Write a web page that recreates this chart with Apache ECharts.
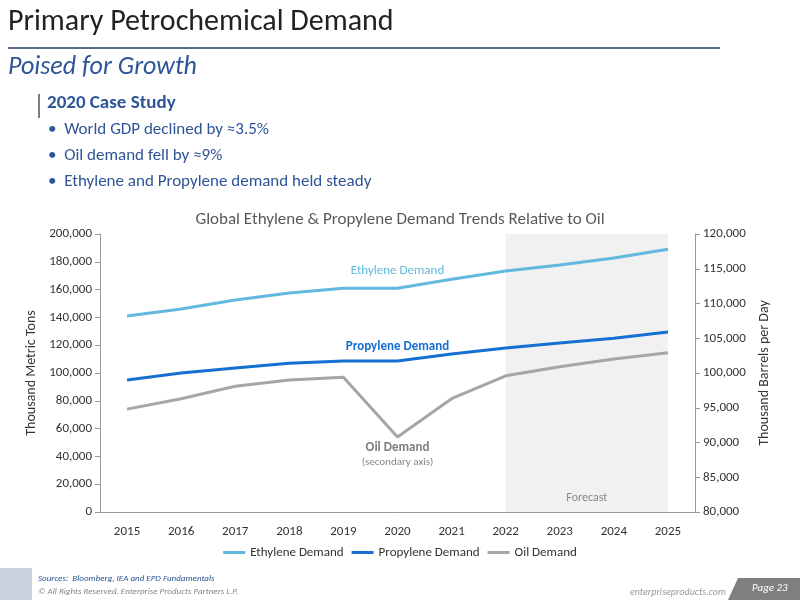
<!DOCTYPE html>
<html><head><meta charset="utf-8">
<script src="https://cdn.jsdelivr.net/npm/echarts@6/dist/echarts.min.js"></script>
<style>html,body{margin:0;padding:0;background:#fff}#c{width:800px;height:600px}</style>
</head><body><div id="c"></div>
<script>
const years = ['2015','2016','2017','2018','2019','2020','2021','2022','2023','2024','2025'];
const ethylene = [141000,146000,152500,157500,161000,161000,167500,173400,177700,182700,189000];
const propylene = [95000,100000,103600,107000,108600,108600,113700,118000,121600,125000,129500];
const oil = [94800,96300,98100,99000,99400,90800,96300,99600,100900,102000,102900];
const bullets = ['World GDP declined by \u22483.5%','Oil demand fell by \u22489%','Ethylene and Propylene demand held steady'];

const chart = echarts.init(document.getElementById('c'));
const F = 'Calibri, Carlito, "Open Sans", sans-serif';
const g = [
 {type:'text',left:8,top:7,style:{text:'Primary Petrochemical Demand',font:'30px '+F,fill:'#222'}},
 {type:'line',shape:{x1:8,y1:48,x2:720,y2:48},style:{stroke:'#1f3864',lineWidth:1.5}},
 {type:'text',left:8,top:54,style:{text:'Poised for Growth',font:'italic 26px '+F,fill:'#2e5597'}},
 {type:'rect',shape:{x:38,y:94,width:2,height:24},style:{fill:'#7f7f7f'}},
 {type:'text',left:47,top:94,style:{text:'2020 Case Study',font:'bold 19px '+F,fill:'#2e5597'}},
 {type:'rect',shape:{x:0,y:568,width:32,height:32},style:{fill:'#c9d3df'}},
 {type:'text',left:38,top:574,style:{text:'Sources:  Bloomberg, IEA and EPD Fundamentals',font:'italic 9px '+F,fill:'#2e5597'}},
 {type:'text',left:38,top:587,style:{text:'\u00a9 All Rights Reserved. Enterprise Products Partners L.P.',font:'italic 9px '+F,fill:'#888'}},
 {type:'text',left:630,top:587,style:{text:'enterpriseproducts.com',font:'italic 10px '+F,fill:'#999'}},
 {type:'polygon',shape:{points:[[738,578],[800,578],[800,600],[728,600]]},style:{fill:'#7f7f7f'}},
 {type:'text',left:752,top:583,style:{text:'Page 23',font:'italic 11px '+F,fill:'#fff'}}
];
bullets.forEach((b,i)=>g.push({type:'text',left:48,top:121+i*26,style:{text:'\u2022  '+b,font:'17px '+F,fill:'#2e5597'}}));
const mp = (txt, coord, style) => ({symbol:'circle',symbolSize:0,label:Object.assign({show:true,position:'inside',fontFamily:F,formatter:txt},style),data:[{coord:coord}]});
chart.setOption({
 animation:false,
 textStyle:{fontFamily:F},
 title:{text:'Global Ethylene & Propylene Demand Trends Relative to Oil',left:'center',top:206,textStyle:{fontSize:17,fontWeight:'normal',color:'#595959',fontFamily:F}},
 graphic:g,
 grid:{left:100,right:105,top:234,bottom:88},
 legend:{bottom:36,itemWidth:22,itemHeight:3,icon:'rect',textStyle:{fontSize:13,color:'#333'},
   data:['Ethylene Demand','Propylene Demand','Oil Demand']},
 xAxis:{type:'category',data:years,axisTick:{show:false},axisLine:{lineStyle:{color:'#999'}},axisLabel:{color:'#333',fontSize:13,margin:13}},
 yAxis:[
  {type:'value',min:0,max:200000,interval:20000,name:'Thousand Metric Tons',nameLocation:'middle',nameGap:62,nameTextStyle:{fontSize:14,color:'#333'},
   axisLine:{show:true,lineStyle:{color:'#999'}},axisTick:{show:true},splitLine:{show:false},
   axisLabel:{color:'#333',fontSize:13,formatter:v=>v.toLocaleString('en-US')}},
  {type:'value',min:80000,max:120000,interval:5000,name:'Thousand Barrels per Day',nameLocation:'middle',nameGap:62,nameRotate:90,nameTextStyle:{fontSize:14,color:'#333'},
   axisLine:{show:true,lineStyle:{color:'#999'}},axisTick:{show:true},splitLine:{show:false},
   axisLabel:{color:'#333',fontSize:13,formatter:v=>v.toLocaleString('en-US')}}
 ],
 series:[
  {name:'Ethylene Demand',type:'line',data:ethylene,symbol:'none',lineStyle:{width:3,color:'#62b8de'},itemStyle:{color:'#62b8de'},
   markArea:{silent:true,itemStyle:{color:'rgba(200,200,200,0.25)'},label:{show:true,position:'insideBottom',distance:8,color:'#888',fontSize:12,fontFamily:F},
     data:[[{name:'Forecast',xAxis:'2022'},{xAxis:'2025'}]]},
   markPoint:mp('Ethylene Demand',[5,173500],{color:'#62b8de',fontSize:13})},
  {name:'Propylene Demand',type:'line',data:propylene,symbol:'none',lineStyle:{width:3,color:'#1670d2'},itemStyle:{color:'#1670d2'},
   markPoint:mp('Propylene Demand',[5,119000],{color:'#1670d2',fontSize:13,fontWeight:'bold'})},
  {name:'Oil Demand',type:'line',yAxisIndex:1,data:oil,symbol:'none',lineStyle:{width:3,color:'#a6a6a6'},itemStyle:{color:'#a6a6a6'},
   markPoint:mp('{a|Oil Demand}\n{b|(secondary axis)}',[5,88300],{rich:{a:{fontSize:13,fontWeight:'bold',color:'#7f7f7f',lineHeight:15},b:{fontSize:11,color:'#888',lineHeight:14}}})}
 ]
});
</script></body></html>
